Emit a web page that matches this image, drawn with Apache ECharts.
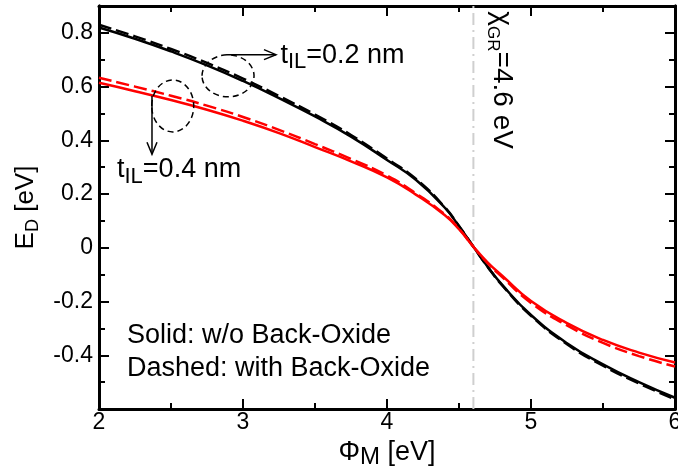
<!DOCTYPE html>
<html><head><meta charset="utf-8">
<script src="https://cdn.jsdelivr.net/npm/echarts@6/dist/echarts.min.js"></script>
<style>html,body{margin:0;padding:0;background:#fff}#c{width:678px;height:475px}</style>
</head><body><div id="c"></div>
<script>
// ---- data ----
const phiM = [2.0, 2.25, 2.5, 2.75, 3.0, 3.25, 3.5, 3.75, 4.0, 4.2, 4.4, 4.5, 4.6, 4.7, 4.8, 5.0, 5.25, 5.5, 5.75, 6.0];
const blackSolid  = [0.820, 0.778, 0.731, 0.679, 0.621, 0.557, 0.489, 0.414, 0.327, 0.253, 0.150, 0.080, 0.004, -0.071, -0.138, -0.250, -0.355, -0.434, -0.500, -0.558];
const blackDashed = [0.830, 0.787, 0.740, 0.688, 0.630, 0.565, 0.496, 0.420, 0.332, 0.257, 0.152, 0.081, 0.004, -0.072, -0.140, -0.253, -0.359, -0.439, -0.505, -0.564];
const redSolid    = [0.614, 0.583, 0.550, 0.514, 0.473, 0.427, 0.375, 0.322, 0.262, 0.198, 0.122, 0.069, 0.004, -0.055, -0.104, -0.198, -0.280, -0.343, -0.390, -0.427];
const redDashed   = [0.633, 0.600, 0.566, 0.529, 0.487, 0.439, 0.386, 0.331, 0.269, 0.203, 0.125, 0.071, 0.004, -0.058, -0.109, -0.205, -0.289, -0.354, -0.403, -0.442];
const chiGR = 4.6;
const xTicks = [2, 3, 4, 5, 6];
const yTickLabels = ['-0.4', '-0.2', '0', '0.2', '0.4', '0.6', '0.8'];

const FONT = '"Liberation Sans", Arial, Helvetica, sans-serif';
const chart = echarts.init(document.getElementById('c'), null, {renderer: 'canvas'});
const pairs = ys => phiM.map((x, i) => [x, ys[i]]);

const axisLine = {show: true, onZero: false, lineStyle: {color: '#000', width: 3}};
const tickStyle = {color: '#000', width: 2};
const mainRich = (size, subSize, L, h) => ({
  a: {fontSize: size, fontFamily: FONT, color: '#000', lineHeight: L, verticalAlign: 'middle'},
  s: {fontSize: subSize, fontFamily: FONT, color: '#000', lineHeight: h, verticalAlign: 'bottom'}
});

function xAx(pos, labels) {
  return {
    type: 'value', min: 2, max: 6, interval: 1, position: pos,
    axisLine: axisLine,
    axisTick: {show: true, inside: true, length: 10, lineStyle: tickStyle},
    minorTick: {show: true, splitNumber: 2, length: 6, lineStyle: tickStyle},
    splitLine: {show: false}, minorSplitLine: {show: false},
    axisLabel: labels ? {show: true, color: '#000', fontSize: 23, fontFamily: FONT, margin: 2,
      formatter: v => (xTicks.indexOf(Math.round(v * 1000) / 1000) >= 0 ? String(v) : '')} : {show: false},
    name: labels ? '{a|Φ}{s|M}{a| [eV]}' : '',
    nameLocation: 'middle', nameGap: 19,
    nameTextStyle: {rich: mainRich(27, 24, 34, 12)}
  };
}
function yAx(pos, interval, len, labels) {
  return {
    type: 'value', min: -0.6, max: 0.9, interval: interval, position: pos,
    axisLine: axisLine,
    axisTick: {show: true, inside: true, length: len, lineStyle: tickStyle},
    minorTick: {show: false},
    splitLine: {show: false},
    axisLabel: labels ? {show: true, color: '#000', fontSize: 23, fontFamily: FONT, margin: 6,
      showMinLabel: false, showMaxLabel: false,
      formatter: v => {
        const s = Math.abs(v) < 1e-9 ? '0' : v.toFixed(1);
        return yTickLabels.indexOf(s) >= 0 ? s : '';
      }} : {show: false},
    name: labels ? '{a|E}{s|D}{a| [eV]}' : '',
    nameLocation: 'middle', nameGap: 55,
    nameTextStyle: {rich: mainRich(26, 18, 34, 14)}
  };
}

function lineSeries(name, ys, color, dashed) {
  return {
    name: name, type: 'line', data: pairs(ys), xAxisIndex: 0, yAxisIndex: 0,
    showSymbol: false, smooth: 0.5, silent: true,
    lineStyle: {color: color, width: 2.5, type: dashed ? [13, 5] : 'solid'},
    z: 3
  };
}

chart.setOption({
  backgroundColor: '#fff',
  animation: false,
  grid: {left: 99, right: 3, top: 6, bottom: 66, outerBoundsMode: 'none'},
  xAxis: [xAx('bottom', true), xAx('top', false)],
  yAxis: [yAx('left', 0.2, 10, true), yAx('left', 0.1, 6, false), yAx('right', 0.2, 10, false), yAx('right', 0.1, 6, false)],
  series: [
    {type: 'line', data: [[chiGR, -0.6], [chiGR, 0.9]], xAxisIndex: 0, yAxisIndex: 0, showSymbol: false, silent: true,
     lineStyle: {color: '#cfcfcf', width: 2, type: [12, 5, 2, 5]}, z: 1},
    lineSeries('black solid', blackSolid, '#000', false),
    lineSeries('black dashed', blackDashed, '#000', true),
    lineSeries('red solid', redSolid, '#ff0000', false),
    lineSeries('red dashed', redDashed, '#ff0000', true)
  ]
});

// ---- annotations anchored in data coordinates ----
const P = (x, y) => chart.convertToPixel({xAxisIndex: 0, yAxisIndex: 0}, [x, y]);
const annRich = mainRich(27, 22, 36, 12);
const e1 = P(2.896, 0.640), e2 = P(2.512, 0.528);
const a1s = P(2.889, 0.719), a1e = P(3.229, 0.719);
const a2s = P(2.368, 0.566), a2e = P(2.368, 0.348);
const t1 = P(3.26, 0.716), t2 = P(2.125, 0.291);
const l1 = P(2.194, -0.325), l2 = P(2.194, -0.449);
const chiPos = P(4.799, 0.880);
const dashStyle = {stroke: '#000', fill: 'none', lineWidth: 1.5, lineDash: [6, 4]};
const thin = {stroke: '#000', fill: 'none', lineWidth: 1.5};
const txt = (p, text, extra) => Object.assign({type: 'text', x: p[0], y: p[1], silent: true, z: 10,
  style: {text: text, rich: annRich, fill: '#000', font: '27px ' + FONT, align: 'left', verticalAlign: 'middle'}}, extra || {});

chart.setOption({
  graphic: [
    {type: 'ellipse', shape: {cx: e1[0], cy: e1[1], rx: 26, ry: 21}, style: dashStyle, silent: true, z: 10},
    {type: 'ellipse', shape: {cx: e2[0], cy: e2[1], rx: 21, ry: 26}, style: dashStyle, silent: true, z: 10},
    {type: 'polyline', shape: {points: [a1s, a1e]}, style: thin, silent: true, z: 10},
    {type: 'polyline', shape: {points: [[a1e[0] - 12, a1e[1] - 5], a1e, [a1e[0] - 12, a1e[1] + 5]]}, style: thin, silent: true, z: 10},
    {type: 'polyline', shape: {points: [a2s, a2e]}, style: thin, silent: true, z: 10},
    {type: 'polyline', shape: {points: [[a2e[0] - 5, a2e[1] - 12], a2e, [a2e[0] + 5, a2e[1] - 12]]}, style: thin, silent: true, z: 10},
    txt(t1, '{a|t}{s|IL}{a|=0.2 nm}'),
    txt(t2, '{a|t}{s|IL}{a|=0.4 nm}'),
    txt(l1, '{a|Solid: w/o Back-Oxide}'),
    txt(l2, '{a|Dashed: with Back-Oxide}'),
    {type: 'text', x: chiPos[0], y: chiPos[1], rotation: -Math.PI / 2, silent: true, z: 10,
     style: {text: '{a|χ}{s|GR}{a|=4.6 eV}', rich: mainRich(28, 17, 36, 12), fill: '#000', align: 'left', verticalAlign: 'middle'}}
  ]
});
</script>
</body></html>
